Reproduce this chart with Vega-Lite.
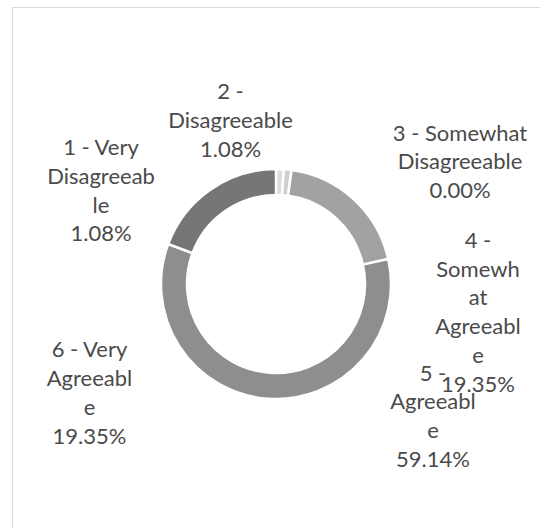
{
  "$schema": "https://vega.github.io/schema/vega-lite/v6.json",
  "width": 528,
  "height": 554,
  "autosize": "none",
  "padding": {"left": 12, "top": 7, "right": 0, "bottom": 0},
  "background": "white",
  "view": {"stroke": "#d9d9d9", "strokeWidth": 1},
  "data": {
    "values": [
      {"category": "1 - Very Disagreeable", "value": 1.08, "label": "1 - Very\nDisagreeab\nle"},
      {"category": "2 - Disagreeable", "value": 1.08, "label": "2 -\nDisagreeable"},
      {"category": "3 - Somewhat Disagreeable", "value": 0.0, "label": "3 - Somewhat\nDisagreeable"},
      {"category": "4 - Somewhat Agreeable", "value": 19.35, "label": "4 -\nSomewh\nat\nAgreeabl\ne"},
      {"category": "5 - Agreeable", "value": 59.14, "label": "5 -\nAgreeabl\ne"},
      {"category": "6 - Very Agreeable", "value": 19.35, "label": "6 - Very\nAgreeabl\ne"}
    ]
  },
  "transform": [
    {"stack": "value", "groupby": [], "sort": [{"field": "category", "order": "ascending"}], "as": ["v0", "v1"]},
    {"calculate": "(datum.v0 + datum.v1) / 2", "as": "mid"},
    {"calculate": "datum.label + '\\n' + format(datum.value, '.2f') + '%'", "as": "text"}
  ],
  "layer": [
    {
      "mark": {"type": "arc", "innerRadius": 89, "outerRadius": 115, "stroke": "white", "strokeWidth": 2.5},
      "encoding": {
        "theta": {"field": "v0", "type": "quantitative", "stack": null, "scale": {"domain": [0, 100]}},
        "theta2": {"field": "v1"},
        "color": {
          "field": "category",
          "type": "nominal",
          "legend": null,
          "scale": {
            "domain": ["1 - Very Disagreeable", "2 - Disagreeable", "3 - Somewhat Disagreeable", "4 - Somewhat Agreeable", "5 - Agreeable", "6 - Very Agreeable"],
            "range": ["#dcdcdc", "#cfcfcf", "#bfbfbf", "#a2a2a2", "#8e8e8e", "#767676"]
          }
        }
      }
    },
    {
      "transform": [{"filter": "datum.category === '1 - Very Disagreeable'"}],
      "mark": {"type": "text", "radius": 130, "dx": -179.4, "dy": 0.9, "align": "center", "baseline": "alphabetic", "lineBreak": "\n", "lineHeight": 28.8, "font": "Lato", "fontSize": 22, "color": "#4a4a4a"},
      "encoding": {"theta": {"field": "mid", "type": "quantitative", "stack": null}, "text": {"field": "text"}}
    },
    {
      "transform": [{"filter": "datum.category === '2 - Disagreeable'"}],
      "mark": {"type": "text", "radius": 130, "dx": -58.7, "dy": -55.7, "align": "center", "baseline": "alphabetic", "lineBreak": "\n", "lineHeight": 28.8, "font": "Lato", "fontSize": 22, "color": "#4a4a4a"},
      "encoding": {"theta": {"field": "mid", "type": "quantitative", "stack": null}, "text": {"field": "text"}}
    },
    {
      "transform": [{"filter": "datum.category === '3 - Somewhat Disagreeable'"}],
      "mark": {"type": "text", "radius": 130, "dx": 166.4, "dy": -14.5, "align": "center", "baseline": "alphabetic", "lineBreak": "\n", "lineHeight": 28.8, "font": "Lato", "fontSize": 22, "color": "#4a4a4a"},
      "encoding": {"theta": {"field": "mid", "type": "quantitative", "stack": null}, "text": {"field": "text"}}
    },
    {
      "transform": [{"filter": "datum.category === '4 - Somewhat Agreeable'"}],
      "mark": {"type": "text", "radius": 130, "dx": 114, "dy": 59.4, "align": "center", "baseline": "alphabetic", "lineBreak": "\n", "lineHeight": 28.8, "font": "Lato", "fontSize": 22, "color": "#4a4a4a"},
      "encoding": {"theta": {"field": "mid", "type": "quantitative", "stack": null}, "text": {"field": "text"}}
    },
    {
      "transform": [{"filter": "datum.category === '5 - Agreeable'"}],
      "mark": {"type": "text", "radius": 130, "dx": 165.8, "dy": -33.2, "align": "center", "baseline": "alphabetic", "lineBreak": "\n", "lineHeight": 28.8, "font": "Lato", "fontSize": 22, "color": "#4a4a4a"},
      "encoding": {"theta": {"field": "mid", "type": "quantitative", "stack": null}, "text": {"field": "text"}}
    },
    {
      "transform": [{"filter": "datum.category === '6 - Very Agreeable'"}],
      "mark": {"type": "text", "radius": 130, "dx": -112.3, "dy": 180.2, "align": "center", "baseline": "alphabetic", "lineBreak": "\n", "lineHeight": 28.8, "font": "Lato", "fontSize": 22, "color": "#4a4a4a"},
      "encoding": {"theta": {"field": "mid", "type": "quantitative", "stack": null}, "text": {"field": "text"}}
    }
  ]
}
